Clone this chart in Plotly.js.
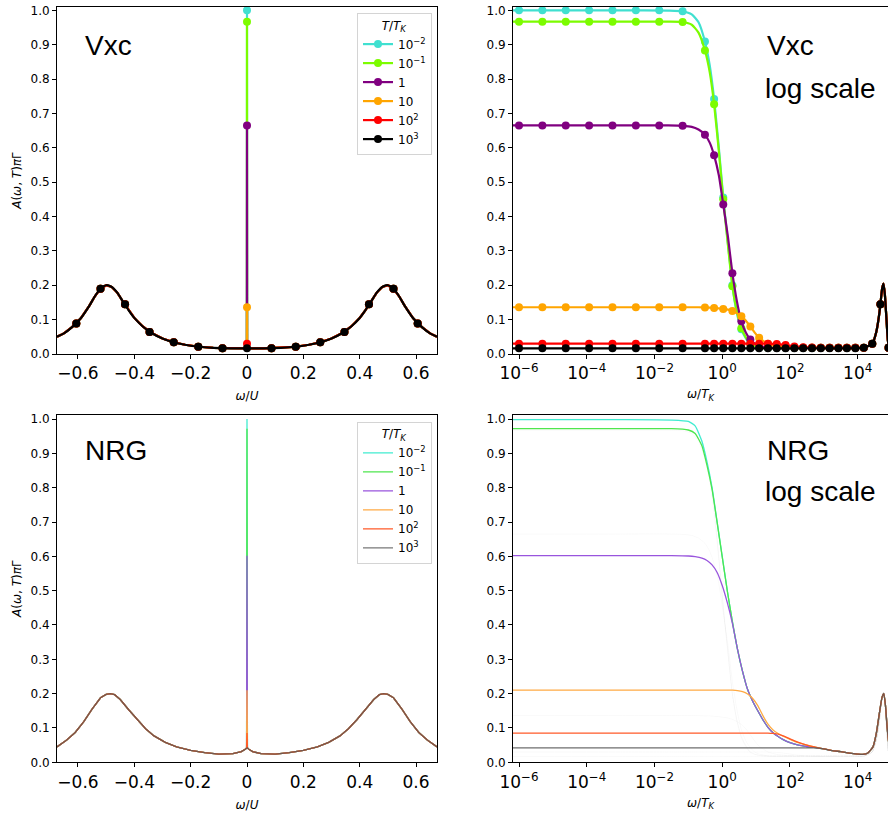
<!DOCTYPE html>
<html><head><meta charset="utf-8">
<script src="https://cdn.plot.ly/plotly-3.0.1.min.js"></script>
<style>html,body{margin:0;padding:0;background:#fff}#chart{width:888px;height:814px}</style>
</head><body><div id="chart"></div>
<script>
// ---------- series meta ----------
const seriesNames = ['10<sup>−2</sup>','10<sup>−1</sup>','1','10','10<sup>2</sup>','10<sup>3</sup>'];
const vxcColors = ['#40E0D0','#7CFC00','#800080','#FFA500','#FF0000','#000000'];
const nrgColors = ['#40ecd0','#4ee64e','#9955dd','#ffaa44','#ff5a28','#555555'];

// ---------- Vxc, linear axis (omega/U) ----------
const vxcLinLineX = [-0.6745,-0.65,-0.62,-0.59,-0.56,-0.54,-0.52,-0.50,-0.48,-0.46,-0.44,-0.42,-0.40,-0.37,-0.34,-0.30,-0.26,-0.22,-0.17,-0.12,-0.06,-0.0005,0,0.0005,0.06,0.12,0.17,0.22,0.26,0.30,0.34,0.37,0.40,0.42,0.44,0.46,0.48,0.50,0.52,0.54,0.56,0.59,0.62,0.65,0.6745];
const vxcLinLineBase = [0.05,0.06,0.079,0.104,0.14,0.168,0.19,0.2,0.195,0.178,0.152,0.127,0.105,0.08,0.062,0.045,0.034,0.027,0.021,0.018,0.0165,0.0165,0.0165,0.0165,0.0165,0.018,0.021,0.027,0.034,0.045,0.062,0.08,0.105,0.127,0.152,0.178,0.195,0.2,0.19,0.168,0.14,0.104,0.079,0.06,0.05];
const vxcLinMarkX = [-0.606,-0.52,-0.433,-0.346,-0.26,-0.173,-0.087,0,0.087,0.173,0.26,0.346,0.433,0.52,0.606];
const vxcLinMarkBase = [0.089,0.19,0.145,0.064,0.034,0.021,0.0165,0.0165,0.0165,0.021,0.034,0.064,0.145,0.19,0.089];
const vxcPeakAtZero = [1.0,0.967,0.665,0.136,0.03,0.0165];

// ---------- Vxc, log axis (omega/T_K), exponents of 10 ----------
const vxcLogLineExp = [-6.18,-3,-1.6,-1.17,-0.9,-0.7,-0.51,-0.37,-0.24,-0.1,0.03,0.17,0.30,0.43,0.565,0.7,0.83,0.96,1.09,1.35,1.61,1.87,2.13,2.5,3,3.5,3.93,4.18,4.43,4.55,4.62,4.67,4.72,4.76,4.80,4.85,4.89,4.93];
const vxcLogLine = [
 [1.0,1.0,0.999,0.997,0.988,0.965,0.909,0.84,0.742,0.60,0.455,0.32,0.2,0.12,0.072,0.045,0.028,0.023,0.02,0.018,0.018,0.018,0.018,0.018,0.018,0.018,0.018,0.018,0.03,0.065,0.105,0.145,0.19,0.205,0.175,0.1,0.04,0.018],
 [0.967,0.967,0.967,0.966,0.958,0.935,0.883,0.82,0.727,0.59,0.45,0.315,0.197,0.125,0.075,0.048,0.03,0.024,0.02,0.018,0.018,0.018,0.018,0.018,0.018,0.018,0.018,0.018,0.03,0.065,0.105,0.145,0.19,0.205,0.175,0.1,0.04,0.018],
 [0.665,0.665,0.665,0.664,0.661,0.653,0.638,0.615,0.578,0.52,0.435,0.34,0.235,0.155,0.095,0.062,0.042,0.03,0.024,0.019,0.018,0.018,0.018,0.018,0.018,0.018,0.018,0.018,0.03,0.065,0.105,0.145,0.19,0.205,0.175,0.1,0.04,0.018],
 [0.136,0.136,0.136,0.136,0.136,0.136,0.135,0.135,0.134,0.133,0.131,0.129,0.125,0.119,0.11,0.097,0.08,0.062,0.047,0.03,0.023,0.02,0.019,0.018,0.018,0.018,0.018,0.018,0.03,0.065,0.105,0.145,0.19,0.205,0.175,0.1,0.04,0.018],
 [0.03,0.03,0.03,0.03,0.03,0.03,0.03,0.03,0.03,0.03,0.03,0.03,0.03,0.03,0.03,0.03,0.03,0.03,0.03,0.03,0.029,0.026,0.022,0.019,0.018,0.018,0.018,0.018,0.03,0.065,0.105,0.145,0.19,0.205,0.175,0.1,0.04,0.018],
 [0.0165,0.0165,0.0165,0.0165,0.0165,0.0165,0.0165,0.0165,0.0165,0.0165,0.0165,0.0165,0.0165,0.0165,0.0165,0.0165,0.0165,0.0165,0.0165,0.0165,0.0165,0.0165,0.0165,0.0165,0.0165,0.0165,0.017,0.018,0.03,0.065,0.105,0.145,0.19,0.205,0.175,0.1,0.04,0.018]
];
const vxcLogMarkExp = [-6,-5.31,-4.62,-3.93,-3.24,-2.55,-1.86,-1.17,-0.51,-0.24,0.03,0.30,0.565,0.83,1.09,1.35,1.61,1.87,2.13,2.39,2.65,2.91,3.17,3.43,3.68,3.93,4.18,4.43,4.67,4.91];
const vxcLogMark = [
 [1.0,1.0,1.0,1.0,1.0,1.0,1.0,0.997,0.909,0.742,0.455,0.2,0.072,0.028,0.02,0.018,0.018,0.018,0.018,0.018,0.018,0.018,0.018,0.018,0.018,0.018,0.018,0.03,0.145,0.018],
 [0.967,0.967,0.967,0.967,0.967,0.967,0.967,0.966,0.883,0.727,0.45,0.197,0.075,0.03,0.02,0.018,0.018,0.018,0.018,0.018,0.018,0.018,0.018,0.018,0.018,0.018,0.018,0.03,0.145,0.018],
 [0.665,0.665,0.665,0.665,0.665,0.665,0.665,0.664,0.638,0.578,0.435,0.235,0.095,0.042,0.024,0.019,0.018,0.018,0.018,0.018,0.018,0.018,0.018,0.018,0.018,0.018,0.018,0.03,0.145,0.018],
 [0.136,0.136,0.136,0.136,0.136,0.136,0.136,0.136,0.135,0.134,0.131,0.125,0.11,0.08,0.047,0.03,0.023,0.02,0.019,0.018,0.018,0.018,0.018,0.018,0.018,0.018,0.018,0.03,0.145,0.018],
 [0.03,0.03,0.03,0.03,0.03,0.03,0.03,0.03,0.03,0.03,0.03,0.03,0.03,0.03,0.03,0.03,0.029,0.026,0.022,0.02,0.019,0.018,0.018,0.018,0.018,0.018,0.018,0.03,0.145,0.018],
 [0.0165,0.0165,0.0165,0.0165,0.0165,0.0165,0.0165,0.0165,0.0165,0.0165,0.0165,0.0165,0.0165,0.0165,0.0165,0.0165,0.0165,0.0165,0.0165,0.0165,0.0165,0.0165,0.0165,0.0165,0.0165,0.017,0.018,0.03,0.145,0.018]
];

// ---------- NRG, linear axis ----------
const nrgLinX = [-0.6745,-0.64,-0.61,-0.58,-0.55,-0.52,-0.50,-0.485,-0.47,-0.45,-0.42,-0.39,-0.36,-0.33,-0.29,-0.25,-0.2,-0.15,-0.1,-0.05,-0.02,-0.008,-0.0015,0,0.0015,0.008,0.02,0.05,0.1,0.15,0.2,0.25,0.29,0.33,0.36,0.39,0.42,0.45,0.47,0.485,0.50,0.52,0.55,0.58,0.61,0.64,0.6745];
const nrgLinBase = [0.045,0.065,0.087,0.118,0.155,0.188,0.198,0.2,0.197,0.183,0.153,0.124,0.098,0.077,0.058,0.045,0.035,0.028,0.024,0.025,0.031,0.037,0.042,0.043,0.042,0.037,0.031,0.025,0.024,0.028,0.035,0.045,0.058,0.077,0.098,0.124,0.153,0.183,0.197,0.2,0.198,0.188,0.155,0.118,0.087,0.065,0.045];
const nrgPeakAtZero = [1.0,0.972,0.602,0.21,0.085,0.043];

// ---------- NRG, log axis ----------
const nrgLogExp = [-6.18,-3,-1.5,-1.0,-0.8,-0.6,-0.45,-0.3,-0.15,0,0.15,0.3,0.45,0.6,0.75,0.9,1.05,1.2,1.35,1.5,1.65,1.8,2.0,2.25,2.5,2.75,3.0,3.25,3.5,3.75,4.0,4.15,4.3,4.45,4.55,4.65,4.72,4.77,4.82,4.87,4.92,4.96];
const nrgLog = [
 [0.998,0.998,0.997,0.993,0.98,0.935,0.875,0.80,0.70,0.60,0.50,0.41,0.33,0.265,0.212,0.178,0.15,0.124,0.102,0.086,0.075,0.066,0.057,0.05,0.046,0.043,0.039,0.034,0.031,0.027,0.024,0.023,0.027,0.045,0.085,0.15,0.19,0.2,0.165,0.1,0.055,0.04],
 [0.972,0.972,0.972,0.968,0.958,0.922,0.865,0.795,0.698,0.598,0.499,0.41,0.33,0.265,0.212,0.178,0.15,0.124,0.102,0.086,0.075,0.066,0.057,0.05,0.046,0.043,0.039,0.034,0.031,0.027,0.024,0.023,0.027,0.045,0.085,0.15,0.19,0.2,0.165,0.1,0.055,0.04],
 [0.602,0.602,0.602,0.601,0.599,0.595,0.588,0.575,0.553,0.515,0.465,0.405,0.33,0.265,0.212,0.178,0.15,0.124,0.102,0.086,0.075,0.066,0.057,0.05,0.046,0.043,0.039,0.034,0.031,0.027,0.024,0.023,0.027,0.045,0.085,0.15,0.19,0.2,0.165,0.1,0.055,0.04],
 [0.21,0.21,0.21,0.21,0.21,0.21,0.21,0.21,0.21,0.21,0.21,0.21,0.209,0.206,0.199,0.186,0.165,0.136,0.111,0.094,0.084,0.076,0.067,0.057,0.05,0.044,0.039,0.034,0.031,0.027,0.024,0.023,0.027,0.045,0.085,0.15,0.19,0.2,0.165,0.1,0.055,0.04],
 [0.085,0.085,0.085,0.085,0.085,0.085,0.085,0.085,0.085,0.085,0.085,0.085,0.085,0.085,0.085,0.085,0.085,0.085,0.085,0.084,0.082,0.077,0.068,0.058,0.05,0.044,0.039,0.034,0.031,0.027,0.024,0.023,0.027,0.045,0.085,0.15,0.19,0.2,0.165,0.1,0.055,0.04],
 [0.042,0.042,0.042,0.042,0.042,0.042,0.042,0.042,0.042,0.042,0.042,0.042,0.042,0.042,0.042,0.042,0.042,0.042,0.042,0.042,0.042,0.042,0.042,0.042,0.042,0.042,0.039,0.034,0.031,0.027,0.024,0.023,0.027,0.045,0.085,0.15,0.19,0.2,0.165,0.1,0.055,0.04]
];

// ---------- helpers ----------
const pow10 = a => a.map(e => Math.pow(10, e));
function withPeak(xs, ys, peak) {
  return ys.map((v, i) => xs[i] === 0 ? peak : v);
}

const traces = [];
const W = 888, H = 814;

// Top-left: Vxc linear
for (let s = 0; s < 6; s++) {
  const shape = s === 5 ? 'spline' : 'linear';
  traces.push({x: vxcLinLineX, y: withPeak(vxcLinLineX, vxcLinLineBase, vxcPeakAtZero[s]),
    xaxis:'x', yaxis:'y', mode:'lines', line:{color:vxcColors[s], width:2.2, shape:shape, smoothing:0.6}, showlegend:false, hoverinfo:'skip'});
  traces.push({x: vxcLinMarkX, y: withPeak(vxcLinMarkX, vxcLinMarkBase, vxcPeakAtZero[s]),
    xaxis:'x', yaxis:'y', mode:'markers', marker:{color:vxcColors[s], size:8}, showlegend:false, hoverinfo:'skip'});
}
// legend entries for top-left
for (let s = 0; s < 6; s++) {
  traces.push({x:[null], y:[null], xaxis:'x', yaxis:'y', mode:'lines+markers', name: seriesNames[s],
    line:{color:vxcColors[s], width:2.2}, marker:{color:vxcColors[s], size:8}, legend:'legend', showlegend:true});
}
// Top-right: Vxc log
for (let s = 0; s < 6; s++) {
  traces.push({x: pow10(vxcLogLineExp), y: vxcLogLine[s], xaxis:'x2', yaxis:'y2', mode:'lines',
    line:{color:vxcColors[s], width:2.2, shape:'spline', smoothing:0.5}, showlegend:false, hoverinfo:'skip'});
  traces.push({x: pow10(vxcLogMarkExp), y: vxcLogMark[s], xaxis:'x2', yaxis:'y2', mode:'markers',
    marker:{color:vxcColors[s], size:8}, showlegend:false, hoverinfo:'skip'});
}
// Bottom-left: NRG linear
for (let s = 0; s < 6; s++) {
  traces.push({x: nrgLinX, y: withPeak(nrgLinX, nrgLinBase, nrgPeakAtZero[s]), xaxis:'x3', yaxis:'y3',
    mode:'lines', name: seriesNames[s], line:{color:nrgColors[s], width:1.3}, opacity: s === 5 ? 0.8 : 1,
    legend:'legend2', showlegend:true, hoverinfo:'skip'});
}
// Bottom-right: very faint Vxc reference, then NRG log
for (let s = 0; s < 6; s++) {
  traces.push({x: pow10(vxcLogLineExp), y: vxcLogLine[s], xaxis:'x4', yaxis:'y4', mode:'lines',
    line:{color:'rgba(0,0,0,0.022)', width:1, shape:'spline', smoothing:0.5}, showlegend:false, hoverinfo:'skip'});
}
for (let s = 0; s < 6; s++) {
  traces.push({x: pow10(nrgLogExp), y: nrgLog[s], xaxis:'x4', yaxis:'y4', mode:'lines',
    line:{color:nrgColors[s], width:1.3, shape:'spline', smoothing:0.5}, opacity: s === 5 ? 0.85 : 1,
    showlegend:false, hoverinfo:'skip'});
}

const tickFontX = {family:'DejaVu Sans', size:17, color:'#000'};
const tickFontY = {family:'DejaVu Sans', size:12, color:'#000'};
const titleFont = {family:'DejaVu Sans', size:12, color:'#000'};
const linTitle = '<i>ω</i>/<i>U</i>';
const logTitle = '<i>ω</i>/<i>T</i><sub><i>K</i></sub>';
const yTitle = '<i>A</i>(<i>ω</i>, <i>T</i>)<i>π</i>Γ';
const logTickVals = [1e-6,1e-4,1e-2,1,1e2,1e4];
const logTickText = ['10<sup>−6</sup>','10<sup>−4</sup>','10<sup>−2</sup>','10<sup>0</sup>','10<sup>2</sup>','10<sup>4</sup>'];

const px = v => v / W, py = v => 1 - v / H;
const leftDom = [px(57), px(437)], rightDom = [px(513), 1];
const topDom = [py(354), py(7)], botDom = [py(762.3), py(415)];

function xLin(dom, anchor) {
  return {domain:dom, anchor:anchor, range:[-0.6745,0.6745], tickmode:'linear', tick0:0, dtick:0.2,
    showline:true, linecolor:'#000', linewidth:1, mirror:true, ticks:'outside', ticklen:4, tickwidth:1, tickcolor:'#000',
    showgrid:false, zeroline:false, tickfont:tickFontX, title:{text:linTitle, font:titleFont, standoff:9}, automargin:false};
}
function xLog(dom, anchor) {
  return {domain:dom, anchor:anchor, type:'log', range:[-6.177,4.894], tickmode:'array', tickvals:logTickVals, ticktext:logTickText,
    showline:true, linecolor:'#000', linewidth:1, mirror:true, ticks:'outside', ticklen:4, tickwidth:1, tickcolor:'#000',
    showgrid:false, zeroline:false, tickfont:tickFontX, title:{text:logTitle, font:titleFont, standoff:7}, automargin:false};
}
function yAx(dom, anchor, top, mirror, withTitle) {
  const a = {domain:dom, anchor:anchor, range:[0, top], tickmode:'linear', tick0:0, dtick:0.1, tickformat:'.1f',
    showline:true, linecolor:'#000', linewidth:1, mirror:mirror, ticks:'outside', ticklen:4, tickwidth:1, tickcolor:'#000',
    showgrid:false, zeroline:false, tickfont:tickFontY, automargin:false};
  if (withTitle) a.title = {text:yTitle, font:titleFont, standoff:6};
  return a;
}

const annFont = {family:'Liberation Sans, Arial, sans-serif', size:28, color:'#000'};
function ann(x, yBase, text) {
  return {xref:'paper', yref:'paper', x:px(x), y:py(yBase - 10), xanchor:'left', yanchor:'middle', text:text, showarrow:false, font:annFont};
}

const legendCommon = {xanchor:'right', yanchor:'top', bgcolor:'rgba(255,255,255,0.85)', bordercolor:'#d4d4d4', borderwidth:1,
  font:{family:'DejaVu Sans', size:12, color:'#000'}, itemwidth:30, tracegroupgap:0,
  title:{text:'<i>T</i>/<i>T</i><sub><i>K</i></sub>', side:'top center', font:{family:'DejaVu Sans', size:12, color:'#000'}}};

const layout = {
  width:W, height:H, margin:{l:0, r:0, t:0, b:0}, paper_bgcolor:'#fff', plot_bgcolor:'#fff', showlegend:true,
  xaxis: xLin(leftDom, 'y'), yaxis: yAx(topDom, 'x', 1.0096, true, true),
  xaxis2: xLog(rightDom, 'y2'), yaxis2: yAx(topDom, 'x2', 1.0096, false, false),
  xaxis3: xLin(leftDom, 'y3'), yaxis3: yAx(botDom, 'x3', 1.0117, true, true),
  xaxis4: xLog(rightDom, 'y4'), yaxis4: yAx(botDom, 'x4', 1.0117, false, false),
  legend: Object.assign({}, legendCommon, {x:px(432), y:py(13)}),
  legend2: Object.assign({}, legendCommon, {x:px(432), y:py(421.7)}),
  annotations: [
    ann(83, 55, 'Vxc'), ann(765, 55, 'Vxc'), ann(763, 98, 'log scale'),
    ann(83, 460, 'NRG'), ann(765, 460, 'NRG'), ann(763, 501, 'log scale')
  ]
};

Plotly.newPlot('chart', traces, layout, {displayModeBar:false, responsive:false});
</script>
</body></html>
